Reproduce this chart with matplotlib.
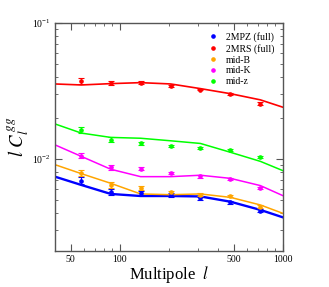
import numpy as np
import matplotlib
matplotlib.use("Agg")
import matplotlib.pyplot as plt
from matplotlib.ticker import FixedLocator, LogLocator, NullFormatter, FixedFormatter

plt.rcParams['font.family'] = ['Liberation Serif', 'DejaVu Serif']
plt.rcParams['mathtext.fontset'] = 'stix'

# multipoles of the measured band powers
ell_data = [58, 88, 134, 205, 312, 476, 727]
# multipoles where the model curves are evaluated
ell_model = [40, 58, 88, 134, 205, 312, 476, 727, 1000]

labels = ["2MPZ (full)", "2MRS (full)", "mid-B", "mid-K", "mid-z"]
colors = ["#0000ff", "#ff0000", "#ffa500", "#ff00ff", "#00ff00"]

# data points  l*C_l
data_2mpz = [0.00692, 0.00575, 0.00566, 0.00543, 0.00513, 0.00480, 0.00415]
data_2mrs = [0.0373, 0.0362, 0.0364, 0.0344, 0.0324, 0.0300, 0.0255]
data_midB = [0.00783, 0.00644, 0.00615, 0.00567, 0.00546, 0.00531, 0.00446]
data_midK = [0.0106, 0.00867, 0.00849, 0.00789, 0.00745, 0.00717, 0.00615]
data_midz = [0.0164, 0.0139, 0.0130, 0.0125, 0.0121, 0.0117, 0.0104]

# error bars
err_2mpz = [0.00040, 0.00030, 0.00020, 0.00015, 0.00012, 0.00010, 0.00010]
err_2mrs = [0.0018, 0.0012, 0.0008, 0.0006, 0.0005, 0.0005, 0.0006]
err_midB = [0.00040, 0.00030, 0.00022, 0.00015, 0.00012, 0.00010, 0.00010]
err_midK = [0.00050, 0.00035, 0.00025, 0.00018, 0.00015, 0.00012, 0.00012]
err_midz = [0.00080, 0.00055, 0.00035, 0.00025, 0.00020, 0.00018, 0.00020]

# model curves
model_2mpz = [0.00741, 0.00644, 0.00553, 0.00534, 0.00534, 0.00530, 0.00485, 0.00422, 0.00372]
model_2mrs = [0.0356, 0.0350, 0.0358, 0.0364, 0.0356, 0.0329, 0.0302, 0.0272, 0.0240]
model_midB = [0.00908, 0.00780, 0.00662, 0.00553, 0.00546, 0.00553, 0.00522, 0.00459, 0.00398]
model_midK = [0.0127, 0.01045, 0.0084, 0.00741, 0.00741, 0.00759, 0.00720, 0.00637, 0.00537]
model_midz = [0.0181, 0.0155, 0.0144, 0.0142, 0.0136, 0.0130, 0.0112, 0.0096, 0.0082]

datas = [data_2mpz, data_2mrs, data_midB, data_midK, data_midz]
errs = [err_2mpz, err_2mrs, err_midB, err_midK, err_midz]
models = [model_2mpz, model_2mrs, model_midB, model_midK, model_midz]
widths = [1.7, 1.2, 1.1, 1.1, 1.1]

fig = plt.figure(figsize=(3.29, 2.87), dpi=100)
ax = fig.add_axes([0.167, 0.125, 0.693, 0.795])

for d, e, m, c, lab, lw in zip(datas, errs, models, colors, labels, widths):
    ax.plot(ell_model, m, color=c, lw=lw, zorder=2)
    ax.errorbar(ell_data, d, yerr=e, fmt='o', ms=2.3, color=c, ecolor=c,
                elinewidth=0.8, capsize=2, capthick=0.8, zorder=3)
    ax.plot([], [], 'o', ms=2.3, color=c, label=lab)

ax.set_xscale('log')
ax.set_yscale('log')
ax.set_xlim(40, 1000)
ax.set_ylim(2.1e-3, 0.1)

ax.xaxis.set_major_locator(FixedLocator([50, 100, 500, 1000]))
ax.xaxis.set_major_formatter(FixedFormatter(['50', '100', '500', '1000']))
ax.xaxis.set_minor_locator(FixedLocator([40, 60, 70, 80, 90, 200, 300, 400, 600, 700, 800, 900]))
ax.xaxis.set_minor_formatter(NullFormatter())
ax.yaxis.set_major_locator(LogLocator(base=10))
ax.yaxis.set_minor_locator(LogLocator(base=10, subs=np.arange(2, 10)))
ax.yaxis.set_minor_formatter(NullFormatter())

ax.tick_params(which='both', direction='in', top=True, right=True, labelsize=7, pad=3,
               color='#555555')
ax.tick_params(which='major', length=5)
ax.tick_params(which='minor', length=2.5)
for s in ax.spines.values():
    s.set_color('#555555')
    s.set_linewidth(1.0)

ax.set_xlabel(r'Multipole  $l$', fontsize=12, labelpad=0)
ax.set_ylabel(r'$l\ C_l^{\,gg}$', fontsize=13.5, labelpad=1)

ax.legend(loc='upper right', frameon=False, fontsize=7, handletextpad=0.9,
          handlelength=0.8, labelspacing=0.2, borderaxespad=0.5)

fig.savefig('out.png', dpi=100)
